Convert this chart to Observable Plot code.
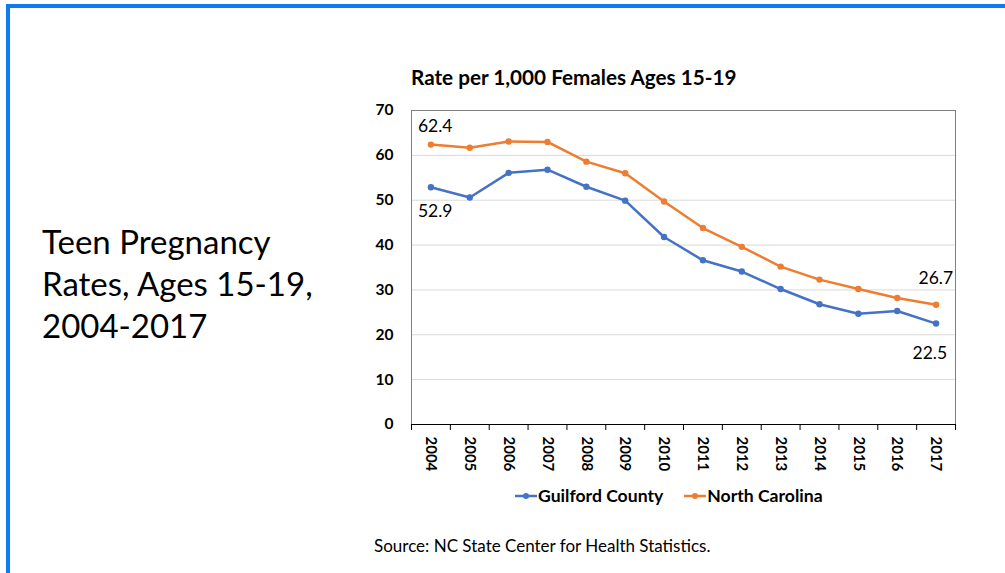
<!DOCTYPE html>
<html>
<head>
<meta charset="utf-8">
<script src="https://cdn.jsdelivr.net/npm/d3@7"></script>
<script src="https://cdn.jsdelivr.net/npm/@observablehq/plot@0.6"></script>
<style>
  body { margin: 0; background: #fff; font-family: Lato, "Open Sans", sans-serif; }
  #page { position: relative; width: 1005px; height: 573px; overflow: hidden; background: #fff; }
  #bordertop { position: absolute; left: 6px; top: 4px; width: 1005px; height: 4px; background: #0B7BEF; }
  #borderleft { position: absolute; left: 6px; top: 4px; width: 4px; height: 573px; background: #0B7BEF; }
  #slidetitle { position: absolute; left: 42px; top: 220px; font-size: 33px; line-height: 42px; color: #000; font-weight: 400; }
  #charttitle { position: absolute; left: 411px; top: 64px; font-size: 20.7px; line-height: 26px; font-weight: 700; color: #000; white-space: nowrap; }
  #chart { position: absolute; left: 360px; top: 100px; }
  #legend { position: absolute; left: 515px; top: 484px; display: flex; gap: 21px; font-size: 17.6px; line-height: 24px; font-weight: 700; color: #000; white-space: nowrap; }
  #legend .item { display: flex; align-items: center; gap: 1px; }
  #source { position: absolute; left: 374px; top: 534px; font-size: 17px; line-height: 24px; color: #000; white-space: nowrap; }
</style>
</head>
<body>
<div id="page">
  <div id="bordertop"></div>
  <div id="borderleft"></div>
  <div id="slidetitle">Teen Pregnancy<br>Rates, Ages 15-19,<br>2004-2017</div>
  <div id="charttitle"></div>
  <div id="chart"></div>
  <div id="legend"></div>
  <div id="source"></div>
</div>
<script>
const chartTitle = "Rate per 1,000 Females Ages 15-19";
const sourceText = "Source: NC State Center for Health Statistics.";
const years = [2004, 2005, 2006, 2007, 2008, 2009, 2010, 2011, 2012, 2013, 2014, 2015, 2016, 2017];
const seriesNames = ["Guilford County", "North Carolina"];
const seriesColors = ["#4472C4", "#ED7D31"];
const guilford = [52.9, 50.6, 56.1, 56.8, 53.0, 49.9, 41.8, 36.6, 34.1, 30.2, 26.8, 24.7, 25.3, 22.5];
const northCarolina = [62.4, 61.7, 63.1, 63.0, 58.6, 56.0, 49.7, 43.8, 39.6, 35.2, 32.3, 30.2, 28.2, 26.7];
const yTicks = [0, 10, 20, 30, 40, 50, 60, 70];

document.getElementById("charttitle").textContent = chartTitle;
document.getElementById("source").textContent = sourceText;

const data = [];
years.forEach((yr, i) => {
  data.push({year: yr, value: guilford[i], series: seriesNames[0], idx: i});
  data.push({year: yr, value: northCarolina[i], series: seriesNames[1], idx: i});
});
const last = years.length - 1;
const fmt = d3.format(".1f");

const boundaries = years.map(y => y - 0.5).concat([years[last] + 0.5]);

const colorScale = {domain: seriesNames, range: seriesColors};

const plot = Plot.plot({
  width: 610,
  height: 390,
  marginLeft: 51,
  marginRight: 15,
  marginTop: 10,
  marginBottom: 66,
  style: {fontFamily: "Lato, 'Open Sans', sans-serif", background: "transparent", color: "#000"},
  x: {type: "linear", domain: [years[0] - 0.5, years[last] + 0.5]},
  y: {domain: [yTicks[0], yTicks[yTicks.length - 1]]},
  color: colorScale,
  marks: [
    Plot.gridY(yTicks.slice(1, -1), {stroke: "#d9d9d9", strokeOpacity: 1, strokeWidth: 1}),
    Plot.frame({stroke: "#7f7f7f", strokeWidth: 1}),
    Plot.ruleY([0], {stroke: "#000", strokeWidth: 1}),
    Plot.axisY(yTicks, {tickSize: 0, tickPadding: 18, fontWeight: "bold", fontSize: 15.5, label: null, tickFormat: d => String(d)}),
    Plot.axisX(boundaries, {tickSize: 6, tickFormat: () => "", label: null, stroke: "#000"}),
    Plot.axisX(years, {tickSize: 0, tickPadding: 12, tickRotate: 90, fontWeight: "bold", fontSize: 15, label: null, tickFormat: d => String(d)}),
    Plot.line(data, {x: "year", y: "value", z: "series", stroke: "series", strokeWidth: 2.5}),
    Plot.dot(data, {x: "year", y: "value", fill: "series", r: 3.2}),
    // value labels on first and last points
    Plot.text(data.filter(d => d.idx === 0 && d.series === seriesNames[1]), {x: "year", y: "value", text: d => fmt(d.value), textAnchor: "start", dx: -13, dy: -18, fontSize: 17.5}),
    Plot.text(data.filter(d => d.idx === 0 && d.series === seriesNames[0]), {x: "year", y: "value", text: d => fmt(d.value), textAnchor: "start", dx: -13, dy: 24, fontSize: 17.5}),
    Plot.text(data.filter(d => d.idx === last && d.series === seriesNames[1]), {x: "year", y: "value", text: d => fmt(d.value), textAnchor: "end", dx: 17, dy: -26, fontSize: 17.5}),
    Plot.text(data.filter(d => d.idx === last && d.series === seriesNames[0]), {x: "year", y: "value", text: d => fmt(d.value), textAnchor: "end", dx: 11, dy: 30, fontSize: 17.5})
  ]
});
document.getElementById("chart").appendChild(plot);

// legend
const legend = document.getElementById("legend");
seriesNames.forEach((name, i) => {
  const item = document.createElement("div");
  item.className = "item";
  item.innerHTML = `<svg width="22" height="10"><line x1="0" y1="5" x2="22" y2="5" stroke="${seriesColors[i]}" stroke-width="2.5"/><circle cx="11" cy="5" r="3" fill="${seriesColors[i]}"/></svg><span>${name}</span>`;
  legend.appendChild(item);
});
</script>
</body>
</html>
